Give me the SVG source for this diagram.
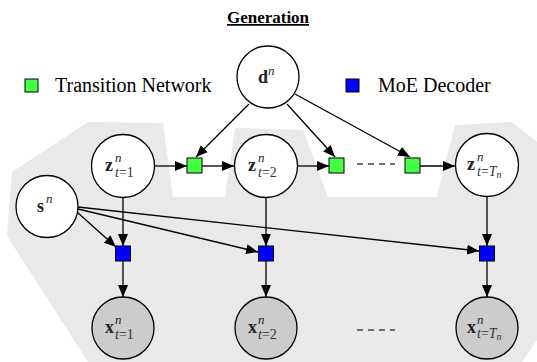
<svg xmlns="http://www.w3.org/2000/svg" width="537" height="362" viewBox="0 0 537 362">
<defs>
<style>
.node{fill:#ffffff;stroke:#000;stroke-width:1.3}
.obs{fill:#cccccc;stroke:#000;stroke-width:1.3}
.tn{fill:#44ff44;stroke:#000;stroke-width:1}
.moe{fill:#0000ff;stroke:#000;stroke-width:1}
.edge{stroke:#000;stroke-width:1.3;fill:none}
.dash{stroke:#444;stroke-width:1.5;stroke-dasharray:6,5;fill:none}
.v{font-family:"Liberation Serif",serif;font-weight:bold;font-size:18px;fill:#222}
.sup{font-family:"Liberation Serif",serif;font-style:italic;font-size:13px;fill:#222}
.sub{font-family:"Liberation Serif",serif;font-size:14px;fill:#333}
.leg{font-family:"Liberation Serif",serif;font-size:20px;fill:#000}
.title{font-family:"Liberation Serif",serif;font-weight:bold;font-size:17px;text-decoration:underline;fill:#000}
</style>
<marker id="ah" viewBox="0 0 12 10" refX="12" refY="5" markerWidth="12" markerHeight="10" markerUnits="userSpaceOnUse" orient="auto">
<path d="M0,0 L12,5 L0,10 z" fill="#000"/>
</marker>
</defs>
<rect width="537" height="362" fill="#fff"/>
<polygon id="plate" points="88,122 163,123 173,197 225,197 235,128 303,130 328,197 437,197 455,125 512,122 537,142 537,340 522,362 88,362 7,236 12,172" fill="#e9e9e9"/>
<text class="title" x="268" y="23" text-anchor="middle">Generation</text>
<g id="legend">
<rect class="tn" x="25" y="79" width="13" height="13"/>
<text class="leg" x="55" y="92">Transition Network</text>
<rect class="moe" x="346" y="79" width="13" height="13"/>
<text class="leg" x="378" y="92">MoE Decoder</text>
</g>
<g id="connectors">
<line class="edge" x1="249" y1="104" x2="196" y2="157" marker-end="url(#ah)"/>
<line class="edge" x1="287" y1="104" x2="335" y2="157" marker-end="url(#ah)"/>
<line class="edge" x1="295" y1="94" x2="410" y2="157" marker-end="url(#ah)"/>
<line class="edge" x1="155" y1="166" x2="187" y2="166" marker-end="url(#ah)"/>
<line class="edge" x1="202" y1="166" x2="234" y2="166" marker-end="url(#ah)"/>
<line class="edge" x1="298" y1="166" x2="329" y2="166" marker-end="url(#ah)"/>
<line class="dash" x1="357" y1="164" x2="395" y2="164"/>
<line class="edge" x1="420" y1="166" x2="455" y2="166" marker-end="url(#ah)"/>
<line class="edge" x1="123" y1="197" x2="123" y2="246" marker-end="url(#ah)"/>
<line class="edge" x1="266" y1="197" x2="266" y2="246" marker-end="url(#ah)"/>
<line class="edge" x1="487" y1="196" x2="487" y2="246" marker-end="url(#ah)"/>
<line class="edge" x1="77" y1="212" x2="116" y2="247" marker-end="url(#ah)"/>
<line class="edge" x1="78" y1="209" x2="258" y2="252" marker-end="url(#ah)"/>
<line class="edge" x1="78" y1="207" x2="479" y2="251" marker-end="url(#ah)"/>
<line class="edge" x1="123" y1="261" x2="123" y2="297" marker-end="url(#ah)"/>
<line class="edge" x1="266" y1="261" x2="266" y2="297" marker-end="url(#ah)"/>
<line class="edge" x1="487" y1="261" x2="487" y2="297" marker-end="url(#ah)"/>
<line class="dash" x1="357" y1="330" x2="395" y2="330"/>
</g>
<g id="d">
<circle class="node" cx="268" cy="77" r="31"/>
<text class="v" x="258" y="83">d</text><text class="sup" x="268" y="75">n</text>
</g>
<g id="z1">
<circle class="node" cx="123" cy="166" r="31.5"/>
<text class="v" x="105" y="171">z</text><text class="sup" x="115" y="162">n</text><text class="sub" x="115" y="177"><tspan font-style="italic">t</tspan>=1</text>
</g>
<g id="z2">
<circle class="node" cx="266" cy="166" r="31.5"/>
<text class="v" x="248" y="171">z</text><text class="sup" x="258" y="162">n</text><text class="sub" x="258" y="177"><tspan font-style="italic">t</tspan>=2</text>
</g>
<g id="zT">
<circle class="node" cx="487" cy="165" r="31.5"/>
<text class="v" x="467" y="170">z</text><text class="sup" x="477" y="161">n</text><text class="sub" x="477" y="176"><tspan font-style="italic">t</tspan>=<tspan font-style="italic">T</tspan><tspan font-style="italic" font-size="10" dy="2">n</tspan></text>
</g>
<g id="s">
<circle class="node" cx="47" cy="206.5" r="31"/>
<text class="v" x="37" y="212">s</text><text class="sup" x="46" y="203">n</text>
</g>
<g id="g1"><rect class="tn" x="187" y="158" width="15" height="15"/></g>
<g id="g2"><rect class="tn" x="329" y="158" width="15" height="15"/></g>
<g id="g3"><rect class="tn" x="405" y="158" width="15" height="15"/></g>
<g id="b1"><rect class="moe" x="115.5" y="246" width="15" height="15"/></g>
<g id="b2"><rect class="moe" x="258.5" y="246" width="15" height="15"/></g>
<g id="b3"><rect class="moe" x="479.5" y="246" width="15" height="15"/></g>
<g id="x1">
<circle class="obs" cx="123" cy="328" r="31"/>
<text class="v" x="105" y="333">x</text><text class="sup" x="115" y="324">n</text><text class="sub" x="115" y="339"><tspan font-style="italic">t</tspan>=1</text>
</g>
<g id="x2">
<circle class="obs" cx="266" cy="328" r="31"/>
<text class="v" x="248" y="333">x</text><text class="sup" x="258" y="324">n</text><text class="sub" x="258" y="339"><tspan font-style="italic">t</tspan>=2</text>
</g>
<g id="xT">
<circle class="obs" cx="487" cy="328" r="31"/>
<text class="v" x="467" y="333">x</text><text class="sup" x="477" y="324">n</text><text class="sub" x="477" y="338"><tspan font-style="italic">t</tspan>=<tspan font-style="italic">T</tspan><tspan font-style="italic" font-size="10" dy="2">n</tspan></text>
</g>
</svg>
